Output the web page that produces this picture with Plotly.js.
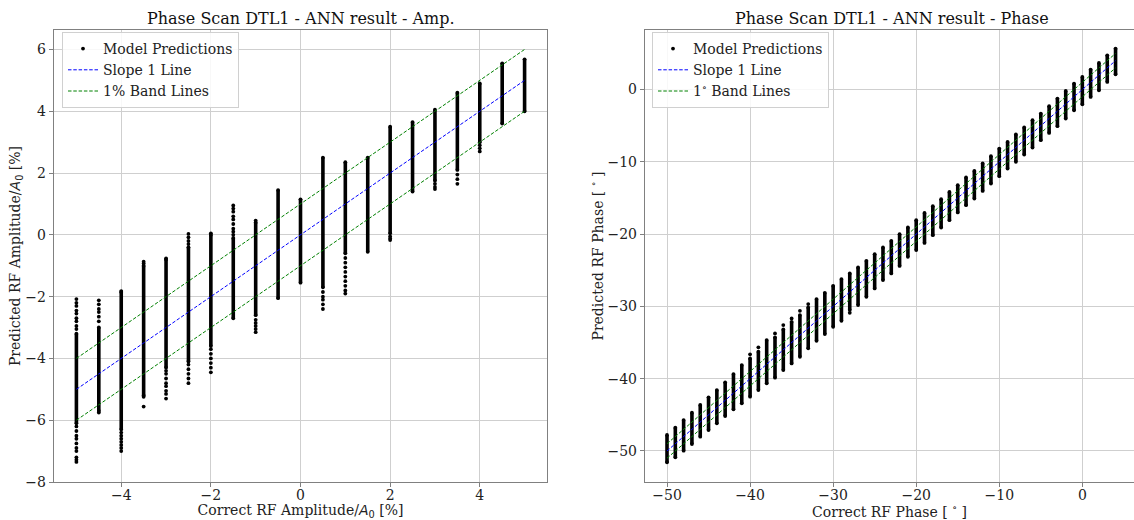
<!DOCTYPE html>
<html>
<head>
<meta charset="utf-8">
<script src="https://cdn.plot.ly/plotly-3.0.1.min.js"></script>
<style>html,body{margin:0;padding:0;background:#fff;}#chart{width:1134px;height:520px;}</style>
</head>
<body>
<div id="chart"></div>
<script>
// ---------- Left chart: amplitude ----------
const ampX = [-5, -4.5, -4, -3.5, -3, -2.5, -2, -1.5, -1, -0.5, 0, 0.5, 1, 1.5, 2, 2.5, 3, 3.5, 4, 4.5, 5];
const ampCoreLo = [-6.1, -5.7, -6.3, -5.2, -4.3, -4.1, -3.6, -2.7, -2.6, -2.05, -1.55, -1.7, -0.6, -0.55, 0.05, 1.4, 1.75, 2.1, 3.0, 3.6, 4.0];
const ampCoreHi = [-3.2, -3.0, -1.85, -1.0, -0.8, -0.4, 0.0, -0.1, 0.4, 1.45, 1.15, 2.5, 2.35, 2.5, 3.5, 3.65, 4.05, 4.6, 4.9, 5.55, 5.68];
const ampSparse = [
  [-2.08, -2.2, -2.3, -2.45, -2.55, -2.7, -2.8, -2.95, -3.05, -6.2, -6.35, -6.5, -6.6, -6.75, -6.9, -7.0, -7.2, -7.28, -7.35],
  [-2.12, -2.25, -2.4, -2.5, -2.65, -2.8, -5.75],
  [-1.82, -6.4, -6.5, -6.6, -6.7, -6.8, -6.9, -7.0],
  [-0.87, -0.93, -5.24, -5.56],
  [-0.76, -4.4, -4.5, -4.65, -4.8, -4.9, -5.05, -5.15, -5.3],
  [0.03, -0.08, -0.2, -0.3, -4.2, -4.35, -4.5, -4.65, -4.8],
  [0.05, -3.7, -3.85, -4.0, -4.15, -4.3, -4.45],
  [0.95, 0.85, 0.75, 0.6, 0.5, 0.35, 0.2, 0.1, 0.0],
  [0.46, -2.75, -2.85, -2.95, -3.05, -3.15],
  [],
  [],
  [-1.85, -2.0, -2.1, -2.25, -2.4],
  [-0.75, -0.9, -1.05, -1.2, -1.35, -1.5, -1.65, -1.8, -1.9],
  [],
  [-0.05, -0.12, -0.17],
  [],
  [1.65, 1.55, 1.48],
  [1.95, 1.8, 1.65],
  [2.9, 2.8, 2.7],
  [],
  []
];
const ampLineX = [-5, 5];
const ampSlopeY = [-5, 5];
const ampBandUpY = [-4, 6];
const ampBandLoY = [-6, 4];

// ---------- Right chart: phase ----------
const phX = [-50, -49, -48, -47, -46, -45, -44, -43, -42, -41, -40, -39, -38, -37, -36, -35, -34, -33, -32, -31, -30,
             -29, -28, -27, -26, -25, -24, -23, -22, -21, -20, -19, -18, -17, -16, -15, -14, -13, -12, -11, -10,
             -9, -8, -7, -6, -5, -4, -3, -2, -1, 0, 1, 2, 3, 4];
const phCoreHi = [-47.79, -46.78, -45.72, -44.70, -43.64, -42.58, -41.57, -40.50, -39.36, -38.11, -37.19, -36.27, -34.66, -34.28, -33.18, -32.13, -31.20, -30.14, -28.99, -28.12, -27.15,
                  -26.22, -25.44, -24.61, -23.69, -22.77, -21.84, -20.93, -20.0, -19.07, -18.07, -17.06, -16.13, -15.16, -14.16, -13.23, -12.16, -11.25, -10.23, -9.22, -8.16,
                  -7.24, -6.22, -5.25, -4.24, -3.32, -2.31, -1.24, -0.19, 0.83, 1.74, 2.76, 3.68, 4.74, 5.67];
const phCoreLo = [-51.56, -50.87, -49.96, -49.03, -48.02, -47.10, -46.17, -45.16, -44.24, -43.41, -42.49, -41.57, -40.64, -39.86, -38.80, -37.88, -36.96, -35.80, -34.75, -33.83, -32.82,
                  -31.99, -30.51, -29.81, -28.67, -27.51, -26.36, -25.44, -24.4, -23.14, -22.21, -21.21, -20.14, -19.08, -18.07, -17.0, -16.0, -15.07, -14.02, -13.0, -11.98,
                  -10.92, -10.0, -8.99, -8.02, -7.0, -6.0, -5.07, -4.0, -2.86, -2.03, -1.02, -0.1, 1.05, 2.12];
const phSparseX = [-40, -39, -37, -36, -35, -34, -33, -28];
const phSparseY = [-36.63, -35.66, -33.73, -32.58, -31.66, -30.61, -29.68, -30.88];
const phLineX = [-50, 4];
const phSlopeY = [-50, 4];
const phBandUpY = [-49, 5];
const phBandLoY = [-51, 3];

// ---------- build traces ----------
function segments(xs, lo, hi) {
  const x = [], y = [];
  for (let i = 0; i < xs.length; i++) { x.push(xs[i], xs[i], null); y.push(lo[i], hi[i], null); }
  return {x, y};
}
const ampSeg = segments(ampX, ampCoreLo, ampCoreHi);
const phSeg = segments(phX, phCoreLo, phCoreHi);
const ampSpX = [], ampSpY = [];
ampSparse.forEach((arr, i) => arr.forEach(v => { ampSpX.push(ampX[i]); ampSpY.push(v); }));

const FONT = 'DejaVu Serif, Liberation Serif, serif';
const BLUE = '#0000ff', GREEN = '#008000';
const dash = '3.5px,1.8px';

const traces = [
  {x: ampSeg.x, y: ampSeg.y, mode: 'lines+markers', line: {color: '#000', width: 3.6}, marker: {color: '#000', size: 3.8},
   xaxis: 'x', yaxis: 'y', showlegend: false, legend: 'legend', hoverinfo: 'skip'},
  {x: ampSpX, y: ampSpY, mode: 'markers', marker: {color: '#000', size: 3.8}, name: 'Model Predictions',
   xaxis: 'x', yaxis: 'y', legend: 'legend'},
  {x: ampLineX, y: ampSlopeY, mode: 'lines', line: {color: BLUE, width: 1, dash: dash}, name: 'Slope 1 Line',
   xaxis: 'x', yaxis: 'y', legend: 'legend'},
  {x: ampLineX, y: ampBandUpY, mode: 'lines', line: {color: GREEN, width: 1, dash: dash}, name: '1% Band Lines',
   xaxis: 'x', yaxis: 'y', legend: 'legend'},
  {x: ampLineX, y: ampBandLoY, mode: 'lines', line: {color: GREEN, width: 1, dash: dash}, showlegend: false,
   xaxis: 'x', yaxis: 'y', legend: 'legend'},

  {x: phSeg.x, y: phSeg.y, mode: 'lines+markers', line: {color: '#000', width: 3.6}, marker: {color: '#000', size: 3.8},
   xaxis: 'x2', yaxis: 'y2', showlegend: false, legend: 'legend2', hoverinfo: 'skip'},
  {x: phSparseX, y: phSparseY, mode: 'markers', marker: {color: '#000', size: 3.8}, name: 'Model Predictions',
   xaxis: 'x2', yaxis: 'y2', legend: 'legend2'},
  {x: phLineX, y: phSlopeY, mode: 'lines', line: {color: BLUE, width: 1, dash: dash}, name: 'Slope 1 Line',
   xaxis: 'x2', yaxis: 'y2', legend: 'legend2'},
  {x: phLineX, y: phBandUpY, mode: 'lines', line: {color: GREEN, width: 1, dash: dash}, name: '1<sup>∘</sup> Band Lines',
   xaxis: 'x2', yaxis: 'y2', legend: 'legend2'},
  {x: phLineX, y: phBandLoY, mode: 'lines', line: {color: GREEN, width: 1, dash: dash}, showlegend: false,
   xaxis: 'x2', yaxis: 'y2', legend: 'legend2'}
];

const axisCommon = {
  showgrid: true, gridcolor: '#cfcfcf', gridwidth: 1, zeroline: false,
  showline: true, linecolor: '#808080', linewidth: 1.2,
  ticks: 'outside', ticklen: 4, tickcolor: '#808080', tickwidth: 1,
  tickfont: {family: FONT, size: 14, color: '#222'}
};
const titleFont = {family: FONT, size: 14, color: '#222'};
const Asym = '<span style="font-family:DejaVu Sans"><i>A</i><sub>0</sub></span>';

const legendCommon = {
  bgcolor: 'rgba(255,255,255,0.85)', bordercolor: '#d0d0d0', borderwidth: 1,
  font: {family: FONT, size: 14, color: '#222'}, xanchor: 'left', yanchor: 'top',
  itemwidth: 30, tracegroupgap: 0
};

const layout = {
  width: 1134, height: 520,
  margin: {l: 0, r: 0, t: 30, b: 38},
  paper_bgcolor: '#fff', plot_bgcolor: '#fff',
  font: {family: FONT},
  showlegend: true,
  xaxis: Object.assign({}, axisCommon, {
    domain: [54/1134, 547/1134], range: [-5.5, 5.5], tick0: 0, dtick: 2, mirror: true, anchor: 'y',
    ticklabelstandoff: -4,
    title: {text: 'Correct RF Amplitude/' + Asym + ' [%]', font: titleFont, standoff: 2}
  }),
  yaxis: Object.assign({}, axisCommon, {
    domain: [0, 1], range: [-8, 6.63], tick0: 0, dtick: 2, mirror: true, anchor: 'x',
    title: {text: 'Predicted RF Amplitude/' + Asym + ' [%]', font: titleFont, standoff: 0}
  }),
  xaxis2: Object.assign({}, axisCommon, {
    domain: [645/1134, 1], range: [-52.65, 6.22], tick0: 0, dtick: 10, mirror: true, anchor: 'y2',
    ticklabelstandoff: -4,
    title: {text: 'Correct RF Phase [ <sup>∘</sup> ]', font: titleFont, standoff: 2}
  }),
  yaxis2: Object.assign({}, axisCommon, {
    domain: [0, 1], range: [-54.29, 8.24], tick0: 0, dtick: 10, mirror: false, anchor: 'x2',
    title: {text: 'Predicted RF Phase [ <sup>∘</sup> ]', font: titleFont, standoff: 0}
  }),
  legend: Object.assign({}, legendCommon, {x: 62/1134, y: (482 - 32) / 452}),
  legend2: Object.assign({}, legendCommon, {x: 652/1134, y: (482 - 32) / 452}),
  annotations: [
    {text: 'Phase Scan DTL1 - ANN result - Amp.', xref: 'paper', yref: 'paper', x: 300.5/1134, y: 1,
     xanchor: 'center', yanchor: 'bottom', yshift: 0, showarrow: false, font: {family: FONT, size: 16, color: '#111'}},
    {text: 'Phase Scan DTL1 - ANN result - Phase', xref: 'paper', yref: 'paper', x: 891.5/1134, y: 1,
     xanchor: 'center', yanchor: 'bottom', yshift: 0, showarrow: false, font: {family: FONT, size: 16, color: '#111'}}
  ]
};

Plotly.newPlot('chart', traces, layout, {staticPlot: true, displayModeBar: false});
</script>
</body>
</html>
